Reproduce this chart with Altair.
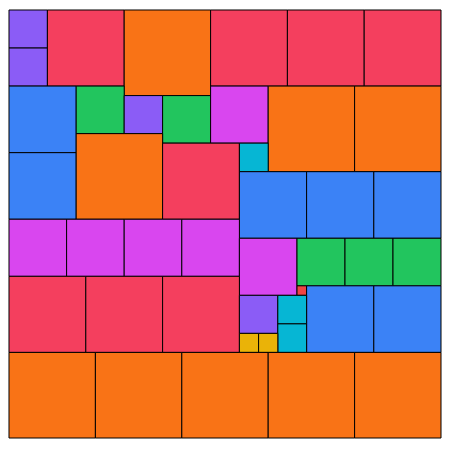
import altair as alt
import pandas as pd

# Treemap cells: group and extents in data units (0-450 grid)
group = ["violet", "violet", "rose", "orange", "rose", "rose", "rose",
         "blue", "blue", "green", "violet", "green", "fuchsia", "orange", "orange",
         "orange", "rose", "cyan", "blue", "blue", "blue",
         "fuchsia", "fuchsia", "fuchsia", "fuchsia", "fuchsia",
         "green", "green", "green", "red", "blue", "blue",
         "rose", "rose", "rose", "violet", "cyan", "cyan", "yellow", "yellow",
         "orange", "orange", "orange", "orange", "orange"]
x0 = [0, 0, 40, 120, 210, 290, 370,
      0, 0, 70, 120, 160, 210, 270, 360,
      70, 160, 240, 240, 310, 380,
      0, 60, 120, 180, 240,
      300, 350, 400, 300, 310, 380,
      0, 80, 160, 240, 280, 280, 240, 260,
      0, 90, 180, 270, 360]
x1 = [40, 40, 120, 210, 290, 370, 450,
      70, 70, 120, 160, 210, 270, 360, 450,
      160, 240, 270, 310, 380, 450,
      60, 120, 180, 240, 300,
      350, 400, 450, 310, 380, 450,
      80, 160, 240, 280, 310, 310, 260, 280,
      90, 180, 270, 360, 450]
y0 = [0, 40, 0, 0, 0, 0, 0,
      80, 150, 80, 90, 90, 80, 80, 80,
      130, 140, 140, 170, 170, 170,
      220, 220, 220, 220, 240,
      240, 240, 240, 290, 290, 290,
      280, 280, 280, 300, 300, 330, 340, 340,
      360, 360, 360, 360, 360]
y1 = [40, 80, 80, 90, 80, 80, 80,
      150, 220, 130, 130, 140, 140, 170, 170,
      220, 220, 170, 240, 240, 240,
      280, 280, 280, 280, 300,
      290, 290, 290, 300, 360, 360,
      360, 360, 360, 340, 330, 360, 360, 360,
      450, 450, 450, 450, 450]

groups = ["violet", "rose", "orange", "blue", "green", "fuchsia", "cyan", "red", "yellow"]
colors = ["#8b5cf6", "#f43f5e", "#f97316", "#3b82f6", "#22c55e", "#d946ef", "#06b6d4", "#ef4444", "#eab308"]

df = pd.DataFrame({"group": group, "x0": x0, "x1": x1, "y0": y0, "y1": y1})

chart = alt.Chart(df).mark_rect(stroke="#000000", strokeWidth=1).encode(
    x=alt.X("x0:Q", scale=alt.Scale(domain=[0, 450], nice=False, zero=False), axis=None),
    x2="x1:Q",
    y=alt.Y("y0:Q", scale=alt.Scale(domain=[0, 450], nice=False, zero=False, reverse=True), axis=None),
    y2="y1:Q",
    color=alt.Color("group:N", scale=alt.Scale(domain=groups, range=colors), legend=None),
).properties(width=434, height=430, padding=0).configure_view(stroke=None)

chart.save("out.html", embed_options={"renderer": "svg", "actions": False})
